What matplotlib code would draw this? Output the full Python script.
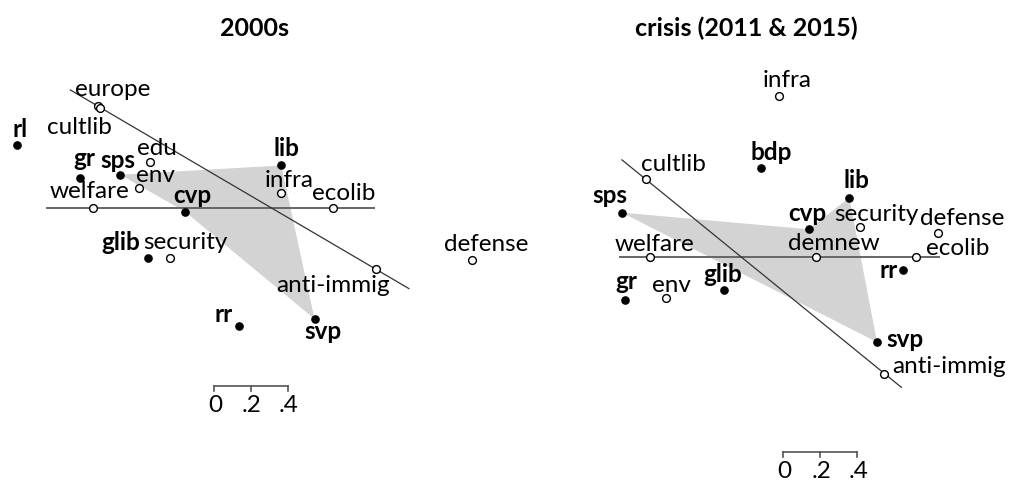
import numpy as np
import matplotlib
matplotlib.use('Agg')
from matplotlib import pyplot as plt

plt.rcParams['font.family'] = ['Lato', 'DejaVu Sans']

# 2000s: party positions and issue positions
parties_a = ['rl', 'gr', 'sps', 'cvp', 'lib', 'glib', 'rr', 'svp']
party_x_a = [-1.38, -1.04, -0.82, -0.47, 0.05, -0.67, -0.18, 0.23]
party_y_a = [0.34, 0.16, 0.18, -0.02, 0.23, -0.27, -0.64, -0.60]
issues_a = ['europe', 'cultlib', 'edu', 'env', 'welfare', 'infra', 'ecolib',
            'security', 'defense', 'anti-immig']
issue_x_a = [-0.94, -0.93, -0.66, -0.72, -0.97, 0.05, 0.33, -0.55, 1.08, 0.56]
issue_y_a = [0.55, 0.54, 0.25, 0.11, 0.0, 0.08, 0.0, -0.27, -0.28, -0.33]
hull_a = ['sps', 'lib', 'svp', 'cvp']

# crisis (2011 & 2015)
parties_b = ['bdp', 'sps', 'lib', 'cvp', 'rr', 'gr', 'glib', 'svp']
party_x_b = [0.10, -0.65, 0.58, 0.36, 0.87, -0.63, -0.10, 0.73]
party_y_b = [0.48, 0.24, 0.32, 0.15, -0.07, -0.23, -0.18, -0.46]
issues_b = ['infra', 'cultlib', 'security', 'defense', 'demnew', 'welfare',
            'ecolib', 'env', 'anti-immig']
issue_x_b = [0.20, -0.52, 0.64, 1.06, 0.40, -0.50, 0.94, -0.41, 0.77]
issue_y_b = [0.87, 0.42, 0.16, 0.13, 0.0, 0.0, 0.0, -0.22, -0.63]
hull_b = ['sps', 'cvp', 'lib', 'svp']

scale_ticks = [0, 0.2, 0.4]
scale_labels = ['0', '.2', '.4']

# label placement: (dx, dy in pixels, ha)
lab_a = {'rl': (3, 8, 'center'), 'gr': (5, 12, 'center'), 'sps': (-2, 7, 'center'),
         'cvp': (7, 9, 'center'), 'lib': (5, 9, 'center'), 'glib': (-8, 8, 'right'),
         'rr': (-6, 4, 'right'), 'svp': (8, -20, 'center'),
         'europe': (15, 10, 'center'), 'cultlib': (-21, -26, 'center'),
         'edu': (7, 7, 'center'), 'env': (17, 6, 'center'), 'welfare': (-3, 10, 'center'),
         'infra': (8, 6, 'center'), 'ecolib': (11, 8, 'center'),
         'security': (15, 9, 'center'), 'defense': (14, 9, 'center'),
         'anti-immig': (-43, -23, 'center')}
lab_b = {'bdp': (11, 8, 'center'), 'sps': (-12, 10, 'center'), 'lib': (7, 10, 'center'),
         'cvp': (-1, 8, 'center'), 'rr': (-5, -8, 'right'), 'gr': (1, 11, 'center'),
         'glib': (-1, 8, 'center'), 'svp': (9, -5, 'left'),
         'infra': (8, 9, 'center'), 'cultlib': (28, 8, 'center'),
         'security': (16, 6, 'center'), 'defense': (24, 8, 'center'),
         'demnew': (18, 7, 'center'), 'welfare': (5, 6, 'center'),
         'ecolib': (10, 2, 'left'), 'env': (5, 6, 'center'), 'anti-immig': (8, 1, 'left')}

fig = plt.figure(figsize=(10.09, 4.86), dpi=100)


def extended(p, q, lo, hi):
    p, q = np.array(p), np.array(q)
    d = q - p
    a, b = p - lo * d, q + hi * d
    return [a[0], b[0]], [a[1], b[1]]


def panel(rect, xlim, ylim, parties, px, py, issues, ix, iy, hull, labs,
          hline, dline, bar0):
    ax = fig.add_axes(rect)
    ax.set_xlim(xlim)
    ax.set_ylim(ylim)
    ax.axis('off')
    P = dict(zip(parties, zip(px, py)))
    I = dict(zip(issues, zip(ix, iy)))

    hx = [P[n][0] for n in hull]
    hy = [P[n][1] for n in hull]
    ax.fill(hx, hy, color='#d3d3d3', lw=0, zorder=1)

    lx, ly = extended(I[hline[0]], I[hline[1]], hline[2], hline[3])
    ax.plot(lx, ly, color='#666666', lw=1.4, zorder=2)
    lx, ly = extended(I[dline[0]], I[dline[1]], dline[2], dline[3])
    ax.plot(lx, ly, color='#333333', lw=0.9, zorder=2)

    ax.plot(px, py, 'o', ms=5.2, color='black', zorder=4)
    ax.plot(ix, iy, 'o', ms=5.6, mfc='white', mec='black', mew=1.0, zorder=4)

    for n in parties:
        dx, dy, ha = labs[n]
        ax.annotate(n, P[n], xytext=(dx, dy), textcoords='offset pixels',
                    ha=ha, va='baseline', fontsize=17.5, fontweight='bold', zorder=5)
    for n in issues:
        dx, dy, ha = labs[n]
        ax.annotate(n, I[n], xytext=(dx, dy), textcoords='offset pixels',
                    ha=ha, va='baseline', fontsize=17.5, zorder=5)

    # scale bar
    bx, by = bar0
    tx = [bx + t for t in scale_ticks]
    ax.plot([tx[0], tx[-1]], [by, by], color='#555555', lw=1.2)
    for t, s in zip(tx, scale_labels):
        ax.plot([t, t], [by, by - 0.025], color='#555555', lw=1.2)
        ax.annotate(s, (t, by), xytext=(1, -26), textcoords='offset pixels',
                    ha='center', va='baseline', fontsize=17.5)
    return ax


unit = 185.0  # pixels per unit
W, H = 1009, 486

# left panel: origin at pixel (272, 208)
panel([0, 0, 505 / W, 436 / H],
      (-272 / unit, (505 - 272) / unit), ((208 - 486) / unit, (208 - 50) / unit),
      parties_a, party_x_a, party_y_a, issues_a, issue_x_a, issue_y_a, hull_a, lab_a,
      ('welfare', 'ecolib', 0.19, 0.17), ('europe', 'anti-immig', 0.10, 0.12),
      (-0.314, -0.962))

# right panel: origin at pixel (742, 257)
panel([505 / W, 0, 504 / W, 436 / H],
      ((505 - 742) / unit, (1009 - 742) / unit), ((257 - 486) / unit, (257 - 50) / unit),
      parties_b, party_x_b, party_y_b, issues_b, issue_x_b, issue_y_b, hull_b, lab_b,
      ('welfare', 'ecolib', 0.11, 0.086), ('cultlib', 'anti-immig', 0.10, 0.071),
      (0.222, -1.054))

fig.text(255 / W, 1 - 36 / H, '2000s', ha='center', va='baseline',
         fontsize=18, fontweight='bold')
fig.text(746 / W, 1 - 36 / H, 'crisis (2011 & 2015)', ha='center', va='baseline',
         fontsize=18, fontweight='bold')

fig.savefig('out.png', dpi=100)
